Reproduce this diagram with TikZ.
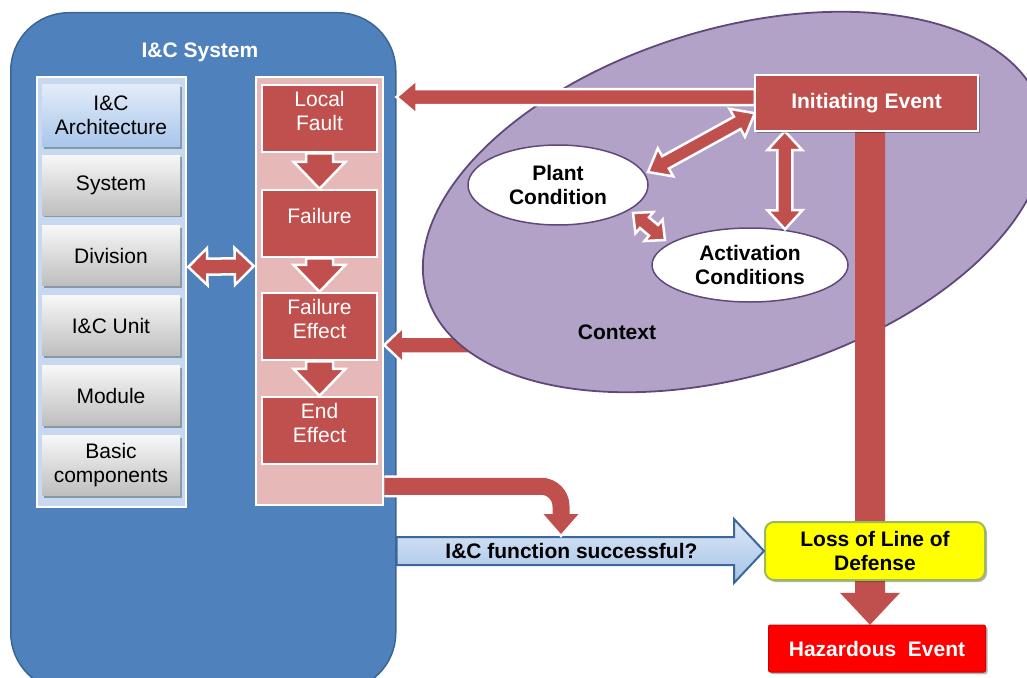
\documentclass[tikz,border=0pt]{standalone}
\usepackage{fontspec}
\setmainfont{Liberation Sans}
\usetikzlibrary{calc,shapes.geometric,shadows}

\definecolor{sysblue}{HTML}{4F81BD}
\definecolor{sysedge}{HTML}{3A6696}
\definecolor{panelblue}{HTML}{C6D9F1}
\definecolor{archtop}{HTML}{E3ECF8}
\definecolor{archbot}{HTML}{A9C6EC}
\definecolor{greytop}{HTML}{F7F7F7}
\definecolor{greybot}{HTML}{BEBEBE}
\definecolor{pinkpanel}{HTML}{E6B9B8}
\definecolor{redbox}{HTML}{C0504D}
\definecolor{ctxfill}{HTML}{B3A2C7}
\definecolor{ctxedge}{HTML}{5F497A}
\definecolor{lodfill}{HTML}{FFFF00}
\definecolor{lodedge}{HTML}{9BBB59}
\definecolor{hazfill}{HTML}{FF0000}
\definecolor{hazedge}{HTML}{D00000}
\definecolor{flowtop}{HTML}{DDE8F6}
\definecolor{flowbot}{HTML}{A4C2E8}
\definecolor{flowedge}{HTML}{3C679A}

% single-headed block arrow: style, from, to, shaft half width, head half width, head length
\newcommand\blockarrow[6]{%
  \coordinate (bahead) at ($(#3)!#6!(#2)$);
  \path[#1] ($(#2)!#4!90:(#3)$) -- ($(bahead)!#4!90:(#3)$) -- ($(bahead)!#5!90:(#3)$) -- (#3)
    -- ($(bahead)!#5!-90:(#3)$) -- ($(bahead)!#4!-90:(#3)$) -- ($(#2)!#4!-90:(#3)$) -- cycle;}

% double-headed block arrow, same arguments
\newcommand\twinarrow[6]{%
  \coordinate (taA) at ($(#2)!#6!(#3)$);
  \coordinate (taB) at ($(#3)!#6!(#2)$);
  \path[#1] (#2) -- ($(taA)!#5!90:(#3)$) -- ($(taA)!#4!90:(#3)$) -- ($(taB)!#4!90:(#3)$)
    -- ($(taB)!#5!90:(#3)$) -- (#3) -- ($(taB)!#5!-90:(#3)$) -- ($(taB)!#4!-90:(#3)$)
    -- ($(taA)!#4!-90:(#3)$) -- ($(taA)!#5!-90:(#3)$) -- cycle;}

% text set a little above the middle of its box
\newcommand\uptext[1]{\raisebox{0pt}[0pt][0pt]{\begin{tabular}{@{}c@{}}#1\end{tabular}}}

\begin{document}
\begin{tikzpicture}[x=1pt,y=-1pt,
  lab/.style={font=\fontsize{21}{24}\selectfont, align=center, inner sep=0pt},
  blab/.style={font=\fontsize{21}{24}\selectfont\bfseries, align=center, inner sep=0pt},
  softshadow/.style={drop shadow={shadow xshift=2pt, shadow yshift=-2pt, opacity=0.3, fill=black}},
  tier/.style={lab, minimum width=138pt, minimum height=60pt, top color=greytop, bottom color=greybot, softshadow},
  fault/.style={lab, text=white, minimum width=115pt, minimum height=67pt, fill=redbox, draw=white, line width=2.5pt},
  redarrow/.style={fill=redbox, draw=white, line width=2.5pt, line join=miter},
  barred/.style={fill=redbox},
  flowarrow/.style={top color=flowtop, bottom color=flowbot, draw=flowedge, line width=2pt, line join=miter},
  cond/.style={blab, ellipse, fill=white, draw=ctxedge, line width=1.5pt}]

\useasboundingbox (0,0) rectangle (1027,677);

% I&C system container
\node[draw=sysedge, fill=sysblue, line width=1.5pt, rounded corners=58pt, minimum width=385pt,
      minimum height=678pt, anchor=north west] (sys) at (10,12) {};
\node[blab, text=white] (systitle) at (200,52) {I\&C System};

% architecture levels
\node[fill=panelblue, draw=white, line width=2.5pt, minimum width=149pt, minimum height=430pt] (lp) at (111.5,292) {};
\node[tier, minimum height=62pt, top color=archtop, bottom color=archbot] (arch) at (111,115.5) {I\&C\\Architecture};
\node[tier] (sy) at (111,185) {System};
\node[tier] (dv) at (111,255.5) {Division};
\node[tier] (un) at (111,325.5) {I\&C Unit};
\node[tier] (md) at (111,395.5) {Module};
\node[tier] (bc) at (111,465.5) {Basic\\components};

% failure propagation chain
\node[fill=pinkpanel, draw=white, line width=2.5pt, minimum width=127pt, minimum height=428pt] (pp) at (319.5,291) {};
\node[fault] (lf) at (319.5,118.5) {\uptext{Local\\Fault}};
\node[fault] (fl) at (319.5,223.5) {\uptext{Failure}};
\node[fault] (fe) at (319.5,326.5) {\uptext{Failure\\Effect}};
\node[fault] (ee) at (319.5,430.5) {\uptext{End\\Effect}};
\blockarrow{redarrow}{lf.south}{fl.north}{13.5pt}{26pt}{27pt}
\blockarrow{redarrow}{fl.south}{fe.north}{13.5pt}{26pt}{27pt}
\blockarrow{redarrow}{fe.south}{ee.north}{13.5pt}{26pt}{27pt}

% link between the two columns
\coordinate (linkL) at ($(lp.east)+(1,-25)$);
\coordinate (linkR) at ($(pp.west)+(-1,-25)$);
\twinarrow{redarrow}{linkL}{linkR}{8pt}{18.5pt}{19pt}

% context acting on the failure effect
\coordinate (ctxOut) at (472,345);
\coordinate (ctxTip) at (ctxOut -| pp.east);
\blockarrow{redarrow}{ctxOut}{ctxTip}{8.5pt}{18pt}{19pt}

% context
\node[ellipse, fill=ctxfill, draw=ctxedge, line width=1.8pt, minimum width=642pt, minimum height=346pt,
      rotate=17] (ctx) at (734,202) {};
\node[cond, minimum width=180pt, minimum height=80pt] (pc) at (558,185) {Plant\\Condition};
\node[cond, minimum width=196pt, minimum height=74pt] (ac) at (750,265) {Activation\\Conditions};
\node[blab] (ctxlabel) at (617,332) {Context};

% initiating event towards the local fault
\node[minimum width=223pt, minimum height=56pt] (ie) at (866.5,103) {};
\coordinate (ieL) at ($(ie.west)+(0,-6)$);
\coordinate (topTip) at (ieL -| sys.east);
\blockarrow{redarrow}{ieL}{topTip}{8pt}{17pt}{20pt}

% initiating event down to the hazardous event
\node[minimum width=217pt, minimum height=47pt] (haz) at (877,648.5) {};
\coordinate (barTop) at ($(ie.south)+(3.5,-5)$);
\coordinate (barTip) at (barTop |- haz.north);
\blockarrow{barred}{barTop}{barTip}{15pt}{30pt}{32pt}

% interactions inside the context
\coordinate (pcA) at ($(pc.center)+(90,-13)$);
\coordinate (ieA) at ($(ie.south west)+(0,-18)$);
\twinarrow{redarrow}{pcA}{ieA}{7pt}{16pt}{20pt}
\coordinate (ieB) at ($(ie.south west)+(30,0)$);
\coordinate (acB) at ($(ac.north)+(35,2)$);
\twinarrow{redarrow}{ieB}{acB}{7.5pt}{17.5pt}{19pt}
\coordinate (pcC) at ($(pc.center)+(75,28)$);
\coordinate (acC) at ($(ac.center)+(-85,-25)$);
\twinarrow{redarrow}{pcC}{acC}{7pt}{14pt}{15pt}

\node[blab, text=white, fill=redbox, draw=white, line width=2.5pt, minimum width=223pt,
      minimum height=56pt, softshadow] (iebox) at (ie) {Initiating Event};

% I&C function outcome
\node[blab, fill=lodfill, draw=lodedge, line width=2pt, rounded corners=9pt, minimum width=220pt,
      minimum height=58pt, softshadow] (lod) at (875,551) {Loss of Line of\\Defense};
\coordinate (flowS) at (sys.east |- lod.west);
\blockarrow{flowarrow}{flowS}{lod.west}{14pt}{32pt}{30pt}
\node[blab] (flowtxt) at ($(flowS)!0.476!(lod.west)$) {I\&C function successful?};

% end effect feeding the I&C function
\coordinate (cvS) at ($(pp.south east)+(0,-20)$);
\coordinate (cvT) at (561,534);
\coordinate (cvH) at ($(cvT)+(0,-20)$);
\draw[white, line width=22pt, rounded corners=20pt] (cvS) -| (cvH);
\path[fill=white, draw=white, line width=5pt, line join=miter]
  ($(cvH)+(-17.5,0)$) -- (cvT) -- ($(cvH)+(17.5,0)$) -- cycle;
\draw[redbox, line width=17pt, rounded corners=20pt] (cvS) -| (cvH);
\fill[redbox] ($(cvH)+(-17.5,0)$) -- (cvT) -- ($(cvH)+(17.5,0)$) -- cycle;

\node[blab, text=white, fill=hazfill, draw=hazedge, line width=1pt, rounded corners=2pt,
      minimum width=217pt, minimum height=47pt, softshadow] (hazbox) at (haz) {Hazardous\ \ Event};
\end{tikzpicture}
\end{document}
